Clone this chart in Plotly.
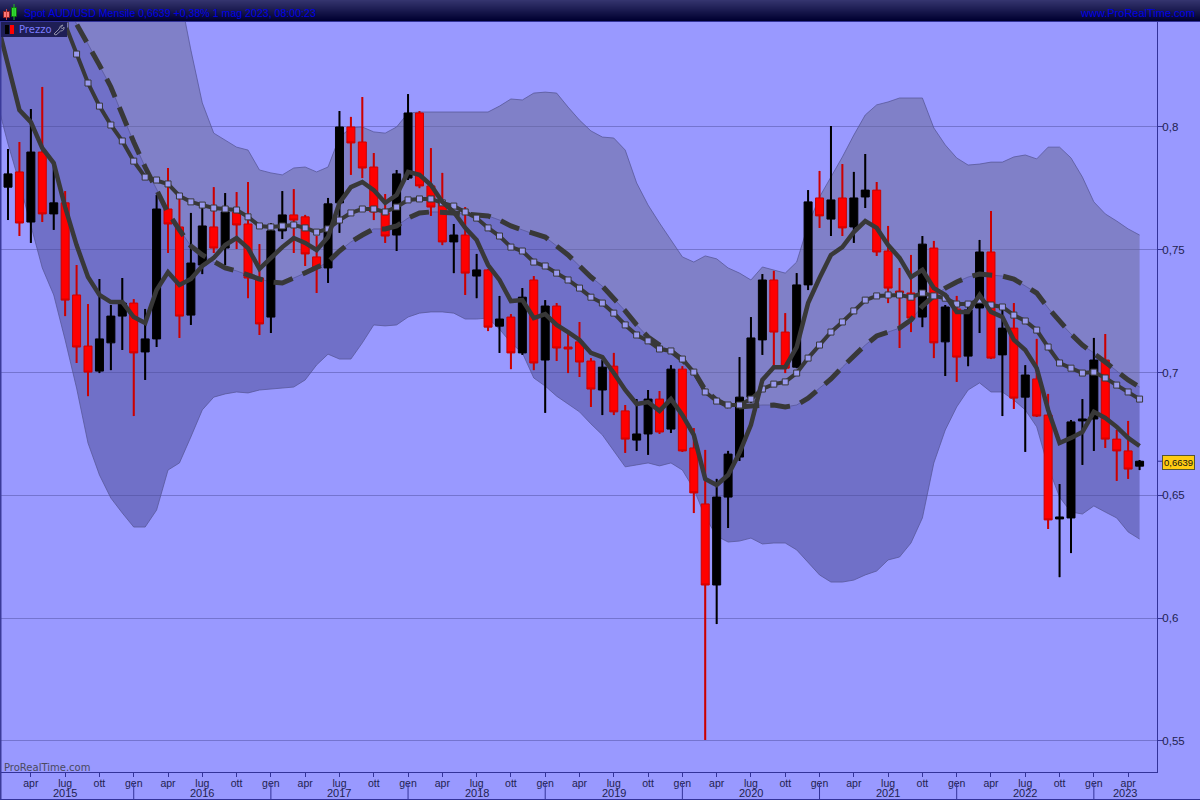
import plotly.graph_objects as go
import pandas as pd

months = pd.date_range("2015-02-01", periods=100, freq="MS")

opens = [.7755,.7817,.7613,.7898,.7646,.7691,.7316,.7108,.7006,.7121,.7230,.7283,.7084,.7137,.7666,.7593,.7234,.7438,.7593,.7507,
.7654,.7605,.7385,.7226,.7577,.7642,.7634,.7471,.7426,.7691,.8000,.7939,.7837,.7650,.7560,.7792,.8057,.7760,.7691,.7532,
.7560,.7393,.7418,.7189,.7226,.7080,.7377,.7051,.7271,.7104,.7125,.7047,.6929,.7026,.6844,.6725,.6750,.6892,.6770,.7014,
.6693,.6465,.6135,.6493,.6656,.6900,.7133,.7377,.7165,.7022,.7357,.7711,.7625,.7711,.7593,.7715,.7743,.7495,.7332,.7324,
.7226,.7507,.7125,.7259,.7067,.7263,.7491,.7072,.7181,.6900,.6974,.6827,.6404,.6408,.6803,.6811,.7051,.6729,.6681,.6619]
highs = [.7910,.7939,.8073,.8163,.7845,.7739,.7438,.7279,.7381,.7275,.7385,.7299,.7259,.7723,.7833,.7711,.7650,.7670,.7755,.7731,
.7735,.7776,.7523,.7609,.7739,.7747,.7642,.7556,.7711,.8065,.8041,.8122,.7894,.7727,.7825,.8134,.8065,.7914,.7813,.7605,
.7674,.7483,.7422,.7312,.7238,.7344,.7393,.7295,.7283,.7161,.7206,.7059,.7051,.7080,.6868,.6892,.6929,.6925,.7030,.7026,
.6774,.6685,.6567,.6681,.7063,.7226,.7401,.7414,.7242,.7405,.7743,.7821,.8004,.7849,.7817,.7890,.7776,.7597,.7426,.7479,
.7556,.7536,.7275,.7312,.7283,.7540,.7658,.7255,.7283,.7030,.7137,.6913,.6546,.6807,.6892,.7141,.7157,.6766,.6803,.6644]
lows = [.7621,.7556,.7528,.7613,.7581,.7230,.7039,.6904,.6998,.7010,.7092,.6823,.6970,.7104,.7487,.7141,.7194,.7401,.7487,.7438,
.7503,.7303,.7153,.7161,.7544,.7487,.7434,.7324,.7365,.7569,.7805,.7792,.7621,.7528,.7495,.7784,.7751,.7638,.7519,.7405,
.7316,.7303,.7169,.7080,.7014,.7072,.7010,.6836,.7047,.6998,.6982,.6860,.6827,.6827,.6673,.6681,.6665,.6750,.6754,.6677,
.6428,.5504,.5976,.6367,.6640,.6876,.7072,.7022,.6998,.7018,.7336,.7589,.7556,.7556,.7528,.7670,.7475,.7283,.7100,.7165,
.7185,.7059,.6986,.6962,.7026,.7161,.7055,.6823,.6852,.6677,.6819,.6363,.6167,.6265,.6624,.6681,.6693,.6559,.6567,.6603]
closes = [.7809,.7609,.7898,.7646,.7691,.7295,.7104,.7002,.7137,.7230,.7283,.7080,.7137,.7666,.7605,.7230,.7446,.7597,.7507,.7654,
.7601,.7385,.7198,.7577,.7642,.7621,.7483,.7426,.7687,.8000,.7935,.7833,.7654,.7556,.7809,.8057,.7760,.7674,.7532,.7560,
.7405,.7418,.7185,.7218,.7080,.7307,.7039,.7271,.7100,.7096,.7043,.6933,.7022,.6840,.6729,.6750,.6892,.6758,.7014,.6681,
.6510,.6135,.6493,.6668,.6900,.7141,.7377,.7165,.7018,.7357,.7695,.7638,.7703,.7589,.7711,.7743,.7491,.7344,.7324,.7222,
.7523,.7121,.7267,.7063,.7255,.7491,.7059,.7181,.6896,.6990,.6823,.6400,.6412,.6799,.6811,.7051,.6729,.6681,.6607,.6639]

# Indicator series start one month before the first visible candle
fast_ma = [.8436,.8248,.8069,.8020,.7914,.7853,.7674,.7519,.7389,.7316,.7287,.7287,.7226,.7202,.7336,.7409,.7357,.7381,.7434,.7467,.7519,
.7548,.7507,.7422,.7467,.7511,.7548,.7528,.7499,.7552,.7691,.7755,.7776,.7743,.7691,.7723,.7817,.7805,.7764,.7695,.7654,
.7589,.7540,.7438,.7377,.7291,.7295,.7222,.7238,.7194,.7165,.7133,.7080,.7063,.6998,.6929,.6872,.6880,.6844,.6892,.6827,
.6746,.6567,.6542,.6583,.6673,.6787,.6970,.7022,.7022,.7104,.7283,.7385,.7479,.7511,.7572,.7617,.7589,.7519,.7467,.7389,
.7418,.7344,.7316,.7247,.7247,.7316,.7247,.7226,.7133,.7092,.7018,.6848,.6713,.6734,.6758,.6840,.6815,.6779,.6734,.6701]
medium_ma = [None,None,None,None,None,.8537,.8415,.8297,.8179,.8085,.8008,.7943,.7861,.7796,.7784,.7768,.7719,.7695,.7682,.7670,.7666,
.7662,.7634,.7597,.7593,.7597,.7601,.7589,.7572,.7585,.7621,.7650,.7666,.7666,.7654,.7674,.7703,.7707,.7707,.7691,.7678,
.7654,.7629,.7589,.7556,.7511,.7495,.7450,.7434,.7405,.7377,.7344,.7307,.7283,.7242,.7194,.7153,.7129,.7096,.7088,.7055,
.7002,.6921,.6884,.6868,.6868,.6892,.6933,.6953,.6962,.6998,.7059,.7112,.7165,.7206,.7251,.7295,.7312,.7316,.7316,.7307,
.7324,.7312,.7303,.7279,.7279,.7295,.7275,.7267,.7234,.7210,.7173,.7104,.7039,.7018,.6998,.7002,.6978,.6949,.6921,.6892]
slow_ma = [.9100,.9000,.8900,.8800,.8700,.8598,.8509,.8419,.8338,.8252,.8163,.8049,.7939,.7837,.7747,.7650,.7581,.7515,.7479,.7450,.7426,
.7414,.7397,.7381,.7369,.7365,.7385,.7405,.7426,.7450,.7495,.7532,.7560,.7585,.7585,.7597,.7629,.7650,.7654,.7654,.7650,
.7646,.7642,.7638,.7621,.7597,.7581,.7564,.7552,.7515,.7479,.7434,.7389,.7352,.7303,.7251,.7194,.7145,.7112,.7088,.7051,
.7006,.6929,.6888,.6864,.6860,.6864,.6868,.6868,.6860,.6868,.6896,.6937,.6974,.7022,.7067,.7112,.7149,.7165,.7181,.7214,
.7271,.7312,.7344,.7369,.7389,.7401,.7397,.7393,.7381,.7352,.7324,.7263,.7206,.7157,.7112,.7080,.7043,.7006,.6970,.6941]
band_upper = [.9500,.9500,.9500,.9500,.9500,.9500,.9500,.9500,.9500,.9500,.9500,.9500,.9500,.9500,.9500,.8721,.8550,.8313,.8098,.7975,.7947,
.7918,.7906,.7825,.7813,.7805,.7833,.7837,.7817,.7837,.7959,.7996,.8000,.7980,.7975,.8000,.8057,.8061,.8061,.8061,.8061,
.8061,.8061,.8061,.8085,.8114,.8110,.8138,.8142,.8138,.8081,.8028,.7984,.7959,.7955,.7906,.7772,.7682,.7609,.7540,.7471,
.7450,.7475,.7463,.7426,.7405,.7377,.7430,.7418,.7405,.7450,.7601,.7715,.7796,.7878,.7967,.8049,.8090,.8102,.8118,.8118,
.8118,.7996,.7927,.7874,.7845,.7849,.7857,.7857,.7878,.7886,.7870,.7918,.7918,.7874,.7796,.7695,.7646,.7617,.7585,.7560]
band_lower = [.8110,.7931,.7772,.7601,.7426,.7316,.7133,.6937,.6713,.6583,.6489,.6428,.6371,.6371,.6440,.6603,.6632,.6738,.6848,.6900,.6913,
.6921,.6917,.6929,.6933,.6937,.6941,.6970,.7031,.7075,.7055,.7055,.7121,.7194,.7190,.7194,.7226,.7242,.7247,.7247,.7242,
.7218,.7218,.7222,.7177,.7121,.7080,.6978,.6945,.6904,.6872,.6840,.6791,.6746,.6681,.6616,.6624,.6632,.6620,.6632,.6603,
.6526,.6412,.6334,.6310,.6314,.6326,.6302,.6306,.6306,.6278,.6225,.6176,.6147,.6147,.6155,.6176,.6192,.6237,.6249,.6306,
.6408,.6632,.6766,.6860,.6929,.6958,.6921,.6921,.6888,.6848,.6779,.6616,.6493,.6432,.6424,.6457,.6432,.6408,.6351,.6322]
price_ticks = [.55,.6,.65,.7,.75,.8]
last_label = "0,6639"
last_price = .6639
title_text = "Spot AUD/USD Mensile 0,6639 +0,38% 1 mag 2023, 08:00:23"
year_labels = ["2015","2016","2017","2018","2019","2020","2021","2022","2023"]
year_centres = [5,17,29,41,53,65,77,89,97.7]
month_names = {1:"gen",4:"apr",7:"lug",10:"ott"}

# layout constants
W,H = 1200,800
L,R,T,B = 1,1157,22,772
XR = [(L-8)/11.43,(R-8)/11.43]
YR = [.85171-.0004072*B,.85171-.0004072*T]
BG="#9999FF"; NAVY="#333399"; INK="#22224F"
px = lambda v:(v-L)/(R-L)
py = lambda v:(B-v)/(B-T)

idx = list(range(len(months)))
ind_x = list(range(-1,len(months)))
fig = go.Figure()

# band (bottom layer)
thin = dict(color="rgba(85,85,150,.75)",width=1)
fig.add_trace(go.Scatter(x=ind_x,y=band_upper,mode="lines",line=thin))
fig.add_trace(go.Scatter(x=ind_x,y=slow_ma,mode="lines",line=thin,fill="tonexty",fillcolor="rgba(103,103,145,.5)"))
fig.add_trace(go.Scatter(x=ind_x,y=band_lower,mode="lines",line=thin,fill="tonexty",fillcolor="rgba(71,71,145,.5)"))

# candles (middle layer)
fig.add_trace(go.Candlestick(x=idx,open=opens,high=highs,low=lows,close=closes,xaxis="x2",yaxis="y2",whiskerwidth=0,
    increasing=dict(line=dict(color="#000000",width=1),fillcolor="#000000"),
    decreasing=dict(line=dict(color="#CC0000",width=1),fillcolor="#FF0000")))
for col,keep in (("#000000",lambda o,c:c>=o),("#CC0000",lambda o,c:c<o)):
    wx,wy=[],[]
    for i,o,h,l,c in zip(idx,opens,highs,lows,closes):
        if keep(o,c):
            wx+=[i,i,None,i,i,None]; wy+=[h,max(o,c),None,min(o,c),l,None]
    fig.add_trace(go.Scatter(x=wx,y=wy,mode="lines",line=dict(color=col,width=2),xaxis="x2",yaxis="y2"))

# moving averages (top layer)
DK="#383838"
fig.add_trace(go.Scatter(x=ind_x,y=slow_ma,mode="lines",line=dict(color=DK,width=5,dash="20px,11px"),xaxis="x3",yaxis="y3"))
fig.add_trace(go.Scatter(x=ind_x,y=medium_ma,mode="lines+markers",line=dict(color=DK,width=4),
    marker=dict(symbol="square",size=6,color="#9A9AEE",line=dict(color=DK,width=1)),xaxis="x3",yaxis="y3"))
fig.add_trace(go.Scatter(x=ind_x,y=fast_ma,mode="lines",line=dict(color=DK,width=4.5),xaxis="x3",yaxis="y3"))

# month ticks and year labels
tv,tt,ann,shapes=[],[],[],[]
for i,m in zip(idx,months):
    if m.month in month_names:
        tv.append(i); tt.append(month_names[m.month])
    if m.month==1:
        shapes.append(dict(type="line",xref="x",yref="paper",x0=i,x1=i,y0=py(783),y1=py(800),line=dict(color=NAVY,width=1),layer="above"))
for year,pos in zip(year_labels,year_centres):
    ann.append(dict(text=year,x=pos,y=py(792.5),xref="x",yref="paper",showarrow=False,font=dict(family="Liberation Sans",size=11,color=INK),xanchor="center",yanchor="middle"))

# title bar gradient
for k in range(T-1):
    f=k/(T-2)
    c=f"rgb({int(52*(1-f))},{int(52*(1-f))},{int(110-62*f)})"
    shapes.append(dict(type="rect",xref="paper",yref="paper",x0=px(0),x1=px(W),y0=py(k),y1=py(k+1),fillcolor=c,line=dict(width=0),layer="above"))
def rect(x0,y0,x1,y1,fill,line=None):
    shapes.append(dict(type="rect",xref="paper",yref="paper",x0=px(x0),x1=px(x1),y0=py(y0),y1=py(y1),fillcolor=fill,line=dict(color=line or fill,width=1 if line else 0),layer="above"))
rect(0,21,W,22,NAVY)
rect(0,22,1.5,800,"#3A3A99")
rect(0,799,W,800,NAVY)
# app icon
rect(3.5,11.5,9.5,17.5,"#FF7777","#882222")
rect(11.5,7.5,16.5,16.5,"#33DD33","#116611")
shapes.append(dict(type="line",xref="paper",yref="paper",x0=px(14),x1=px(14),y0=py(4),y1=py(20),line=dict(color="#22BB22",width=1),layer="above"))
shapes.append(dict(type="line",xref="paper",yref="paper",x0=px(6.5),x1=px(6.5),y0=py(9),y1=py(20),line=dict(color="#CC4444",width=1),layer="above"))
# legend chip
rect(1,22,67,37,"#1E1E55")
rect(5,25,9,34,"#000000")
rect(10,25,14,34,"#FF0000")
shapes.append(dict(type="path",xref="paper",yref="paper",layer="above",
    path=f"M {px(54)} {py(34)} L {px(59)} {py(29)} Q {px(60)} {py(25)} {px(63)} {py(25)} L {px(61)} {py(27.5)} L {px(62.5)} {py(29)} L {px(64)} {py(27)} Q {px(64.5)} {py(31)} {px(60.5)} {py(31)} L {px(56)} {py(35)} Z",
    line=dict(color="#9090A8",width=1),fillcolor="rgba(0,0,0,0)"))
# last price marker
shapes.append(dict(type="line",xref="paper",yref="y",x0=px(1157),x1=px(1162),y0=last_price,y1=last_price,line=dict(color=NAVY,width=1),layer="above"))

def label(t,x,y,size,color,family="Liberation Sans",anchor="left",**kw):
    ann.append(dict(text=t,x=px(x),y=py(y),xref="paper",yref="paper",showarrow=False,xanchor=anchor,yanchor="middle",
                    font=dict(family=family,size=size,color=color),**kw))
label(title_text,22,12.5,10.6,"#0000E6")
label("www.ProRealTime.com",1197,12.5,11,"#0000E6",anchor="right")
label("Prezzo",17,29.5,10,"#7C7CFF",family="DejaVu Sans")
label("ProRealTime.com",2,767,10,"#4A4A5E",family="DejaVu Sans")
label(last_label,1161.5,462,9.5,"#111111",bgcolor="#FFCC11",bordercolor="#555533",borderwidth=1,borderpad=1)

ax_hidden=dict(visible=False,range=XR,rangeslider=dict(visible=False))
ay_hidden=dict(visible=False,range=YR)
fig.update_layout(
    width=W,height=H,autosize=False,showlegend=False,hovermode=False,
    margin=dict(l=L,r=W-R,t=T,b=H-B,pad=0),
    paper_bgcolor=BG,plot_bgcolor=BG,separators=",.",boxgap=.3,boxgroupgap=0,
    xaxis=dict(range=XR,tickmode="array",tickvals=tv,ticktext=tt,ticks="outside",ticklen=4,tickcolor=NAVY,
               showgrid=False,zeroline=False,showline=True,linecolor=NAVY,linewidth=1,rangeslider=dict(visible=False),
               ticklabelstandoff=-3,tickfont=dict(family="Liberation Sans",size=10.5,color=INK)),
    yaxis=dict(range=YR,side="right",tickmode="array",tickvals=price_ticks,ticks="outside",ticklen=5,tickcolor=NAVY,
               showgrid=True,gridcolor="rgba(70,70,150,.45)",gridwidth=1,zeroline=False,showline=True,linecolor=NAVY,linewidth=1,
               ticklabelstandoff=-3,tickfont=dict(family="Liberation Sans",size=11.5,color=INK)),
    xaxis2=dict(ax_hidden,overlaying="x",anchor="y2"),yaxis2=dict(ay_hidden,overlaying="y",anchor="x2"),
    xaxis3=dict(ax_hidden,overlaying="x",anchor="y3"),yaxis3=dict(ay_hidden,overlaying="y",anchor="x3"),
    shapes=shapes,annotations=ann)
fig.write_html("out.html",config={"displayModeBar":False},post_script="document.body.style.margin='0';document.body.style.overflow='hidden';")
